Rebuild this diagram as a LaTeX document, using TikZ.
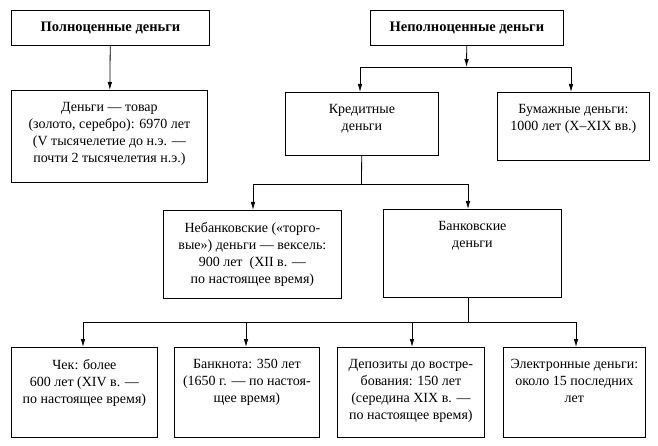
\documentclass[tikz,border=0pt]{standalone}
\usepackage{fontspec}
\setmainfont{Liberation Serif}
\usetikzlibrary{arrows.meta}
\newcommand{\celltext}[3]{\parbox[c][#2][t]{#1}{\centering\vspace*{12pt}#3}}
\begin{document}
\begin{tikzpicture}[x=1pt, y=-1pt, line width=0.8pt,
        >={Latex[length=8pt,width=4.5pt]},
        every node/.style={font=\fontsize{14}{17}\selectfont},
        head/.style={draw, anchor=north west, inner sep=0pt, font=\fontsize{14.5}{17}\selectfont\bfseries},
        cell/.style={draw, anchor=north west, inner sep=0pt}]
        \useasboundingbox (0,0) rectangle (658,446);
        \begin{scope}
            \node[head, minimum width=198pt, minimum height=35pt] (full) at (11, 10) {Полноценные деньги};
            \node[head, minimum width=193pt, minimum height=35pt] (partial) at (370, 10) {Неполноценные деньги};
            \node[cell] (commod) at (11, 90) {\celltext{196pt}{92pt}{Деньги — товар\\(золото, серебро): 6970 лет\\(V тысячелетие до н.э. —\\почти 2 тысячелетия н.э.)}};
            \node[cell] (credit) at (285, 92) {\celltext{153pt}{63pt}{Кредитные\\деньги}};
            \node[cell] (paper) at (497, 92) {\celltext{152pt}{68pt}{Бумажные деньги:\\1000 лет (X–XIX вв.)}};
            \node[cell] (nonbank) at (163, 210) {\celltext{178pt}{88pt}{Небанковские («торго-\\вые») деньги — вексель:\\900 лет~ (XII в. —\\по настоящее время)}};
            \node[cell] (bank) at (383, 209) {\celltext{178pt}{88pt}{Банковские\\деньги}};
            \node[cell] (cheque) at (11, 347) {\celltext{146pt}{90pt}{Чек: более\\600 лет (XIV в. —\\по настоящее время)}};
            \node[cell] (note) at (174, 347) {\celltext{145pt}{90pt}{Банкнота: 350 лет\\(1650 г. — по настоя-\\щее время)}};
            \node[cell] (deposit) at (337, 347) {\celltext{147pt}{90pt}{Депозиты до востре-\\бования: 150 лет\\(середина XIX в. —\\по настоящее время)}};
            \node[cell] (emoney) at (503, 347) {\celltext{142pt}{90pt}{Электронные деньги:\\около 15 последних\\лет}};
        \end{scope}
        % shinen
        \coordinate (bus1) at (466.5, 67);
        \coordinate (bus1l) at (360, 67);
        \coordinate (bus1r) at (571, 67);
        \coordinate (bus2) at (361.5, 184);
        \coordinate (bus2l) at (253, 184);
        \coordinate (bus2r) at (468, 184);
        \coordinate (bus3) at (468, 322);
        \coordinate (bus3a) at (83, 322);
        \coordinate (bus3b) at (246, 322);
        \coordinate (bus3c) at (412, 322);
        \coordinate (bus3d) at (576, 322);
        \begin{scope}
            \path [->] (full) edge (commod);
            \path [->] (partial) edge (bus1);
            \draw (bus1l) -- (bus1r);
            \path [->] (bus1l) edge (bus1l |- credit.north);
            \path [->] (bus1r) edge (bus1r |- paper.north);
            \draw (credit) -- (bus2);
            \draw (bus2l) -- (bus2r);
            \path [->] (bus2l) edge (bus2l |- nonbank.north);
            \path [->] (bus2r) edge (bus2r |- bank.north);
            \draw (bus3 |- bank.south) -- (bus3);
            \draw (bus3a) -- (bus3d);
            \path [->] (bus3a) edge (bus3a |- cheque.north);
            \path [->] (bus3b) edge (bus3b |- note.north);
            \path [->] (bus3c) edge (bus3c |- deposit.north);
            \path [->] (bus3d) edge (bus3d |- emoney.north);
        \end{scope}
\end{tikzpicture}
\end{document}
